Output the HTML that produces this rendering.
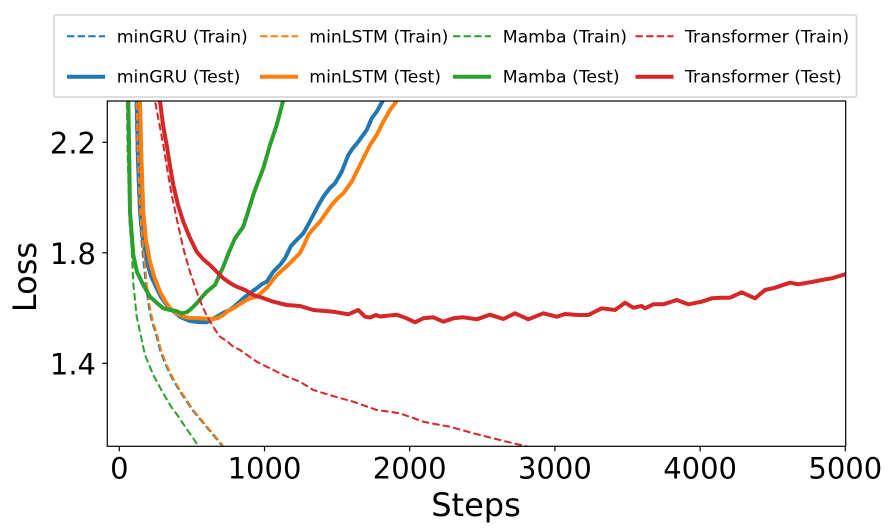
<!DOCTYPE html>
<html>
<head>
<meta charset="utf-8">
<style>
html,body{margin:0;padding:0;background:#fff;}
svg{display:block;}
text{font-family:"DejaVu Sans","Liberation Sans",sans-serif;fill:#000;}
</style>
</head>
<body>
<svg width="889" height="531" viewBox="0 0 889 531" xmlns="http://www.w3.org/2000/svg">
<defs>
<clipPath id="ax"><rect x="107.3" y="101" width="738.4" height="345.3"/></clipPath>
</defs>
<rect x="0" y="0" width="889" height="531" fill="#fff"/>

<g clip-path="url(#ax)" fill="none" stroke-linejoin="round" stroke-linecap="butt">
<!-- minGRU train -->
<polyline stroke="#1f77b4" stroke-width="2" stroke-dasharray="7.4 3.2" points="134,60 135.5,101 137,160 139,211 141,235 142.3,250 145.7,283 149,308 152,322 155.7,333 160,350 165.7,365 172,378 179,390 185.7,400 192.3,410 199,418 209,430 220.7,444 224,449"/>
<!-- minGRU test -->
<polyline stroke="#1f77b4" stroke-width="4" points="136,60 136.7,101 138,160 140,211.7 143,240 146.7,261.7 151,276 156.7,288.3 161,297 166.7,305 173,311 180,316.7 185,319 190,321 198,322 206.7,322.3 211,320 216.7,316.7 223,313 230,310 237,304 243.3,298.3 250,293 256.7,288.3 262,284 266.7,281.7 273.3,271.7 280,265 285,258.3 291,246 295,241.7 300,236.7 303.3,233.3 308,225 313.3,215 318,206 323.3,196.7 330,188 335,183.3 341.7,171.7 348.3,155 353,148 358.3,141.7 366.7,130 371.7,118.3 376.7,111.7 382.7,101 390,88"/>
<!-- minLSTM train -->
<polyline stroke="#ff7f0e" stroke-width="2" stroke-dasharray="7.4 3.2" points="135,60 136.5,101 138,160 140,211 142,235 143.3,250 146.7,283 150,308 153,322 156.7,333 161,350 166.7,365 173,378 180,390 186.7,400 193.3,410 200,418 210,430 221.7,444 225,449"/>
<!-- minLSTM test -->
<polyline stroke="#ff7f0e" stroke-width="4" points="139,60 140,101 141.5,160 143.3,211.7 146,240 150,261.7 154,276 160,291.7 165,301 170,308 176,313 183.3,316.7 190,318 200,318.3 207,318.7 213.3,319 218,318 223.3,315 228,311 233.3,308.3 240,304 246.7,300 251,298 256.7,296.7 262,292 266.7,288 272,281 277,275 283,269.5 290,263.3 295,258 300,253 304,245 308.3,235 314,228 320,221.7 326,213 331.7,205 337,199 343.3,193.3 351.7,181.7 356,173 360,165 365,155 370,145 376.7,135 383.3,121.7 390,110 396.7,101 402,90"/>
<!-- Mamba train -->
<polyline stroke="#2ca02c" stroke-width="2" stroke-dasharray="7.4 3.2" points="126.5,60 127.5,150 129.5,221.7 131.7,250 133.3,283.3 136.7,316.7 140,332 145,355 153.3,375 163,393 170,405 178,416 186.7,429 193,438 198.3,446 202,452"/>
<!-- Mamba test -->
<polyline stroke="#2ca02c" stroke-width="4" points="127.5,60 128.3,101 129.3,160 130,211.7 133.3,255 137,272 143.3,285 150,296.7 157,303 163.3,308.3 170,310 176,311 181.7,313.3 186.7,312.3 191,309 196.7,303.3 206.7,291.7 215,285 223.3,266.7 229,252 235,238.3 243.3,226.7 248,212 253.3,195 258,182 263.3,168.3 270,145 276.7,125 283.3,100 290,75"/>
<!-- Transformer train -->
<polyline stroke="#d62728" stroke-width="2" stroke-dasharray="7.4 3.2" points="152,60 155,101 159,122 163.3,145 167,168 171.7,195 177,220 183.3,248.3 190,272 196.7,291.7 203,308 210,321.7 216,331 220,336.7 226.7,341 233.3,346.7 240,350 256.7,361.7 266.7,366.7 286.7,376.7 300,381.7 313.3,390 333,396 353.3,401.7 376.7,410 400,413.3 423.3,421.7 440,425 450,426.7 473.3,433.3 506.7,441.7 528,446.7 540,450"/>
<!-- Transformer test -->
<polyline stroke="#d62728" stroke-width="4" points="157,60 160,101 163,125 166.7,145 170,166 173.3,185 178,205 183.3,221.7 190,238 196.7,251.7 203,259 210,265 216,271 223.3,278.3 230,283 236.7,286.7 245,290 253.3,295 263,298 273.3,301.7 286.7,305 300,306 313.3,310 333.3,311.7 348.3,314.3 358.3,310 365,316.7 370,317.5 376,315 380,316.5 396.7,314.7 406.7,318.3 415,322.3 423.3,318.3 433.3,317.3 443.3,321.7 453.3,318.3 463.3,317.3 476.7,319.3 490,314.7 503.3,319 515,313.3 528.3,319.3 543.3,313.3 556.7,316.7 565,314 578.3,315 588.3,315 601.7,308.3 615,310 625,302.7 633.3,307.7 641.7,306 645,308.3 653.3,304.3 663.3,304.3 676.7,300 688.3,304.3 701.7,301.7 711.7,298.3 721.7,297.7 730,297.7 741.7,292.3 755,298.3 765,290 775,287.7 790,282.7 798.3,284.3 811.7,282 821.7,280 831.7,278.3 846,274"/>
</g>

<!-- axes spines -->
<rect x="107.3" y="101" width="738.4" height="345.3" fill="none" stroke="#000" stroke-width="1.2"/>

<!-- x ticks -->
<g stroke="#000" stroke-width="1.2">
<line x1="119.3" y1="446.3" x2="119.3" y2="451.3"/>
<line x1="264.5" y1="446.3" x2="264.5" y2="451.3"/>
<line x1="409.7" y1="446.3" x2="409.7" y2="451.3"/>
<line x1="554.9" y1="446.3" x2="554.9" y2="451.3"/>
<line x1="700.1" y1="446.3" x2="700.1" y2="451.3"/>
<line x1="845.3" y1="446.3" x2="845.3" y2="451.3"/>
<line x1="102.3" y1="142.3" x2="107.3" y2="142.3"/>
<line x1="102.3" y1="252.8" x2="107.3" y2="252.8"/>
<line x1="102.3" y1="363.3" x2="107.3" y2="363.3"/>
</g>
<g font-size="29" text-anchor="middle">
<text x="119.3" y="478.5">0</text>
<text x="264.5" y="478.5">1000</text>
<text x="409.7" y="478.5">2000</text>
<text x="554.9" y="478.5">3000</text>
<text x="700.1" y="478.5">4000</text>
<text x="845.3" y="478.5">5000</text>
</g>
<g font-size="29" text-anchor="end">
<text x="96" y="153.3">2.2</text>
<text x="96" y="263.8">1.8</text>
<text x="96" y="374.3">1.4</text>
</g>
<text x="476" y="516" font-size="32" text-anchor="middle">Steps</text>
<text transform="translate(36,277) rotate(-90)" font-size="32" text-anchor="middle">Loss</text>

<!-- legend -->
<rect x="54" y="15" width="802.5" height="82" rx="2" ry="2" fill="#fff" stroke="#d4d4d4" stroke-width="1.6"/>
<g fill="none">
<line x1="67" y1="36.3" x2="105" y2="36.3" stroke="#1f77b4" stroke-width="2" stroke-dasharray="7.4 3.2"/>
<line x1="67" y1="76.7" x2="105" y2="76.7" stroke="#1f77b4" stroke-width="4"/>
<line x1="260" y1="36.3" x2="298" y2="36.3" stroke="#ff7f0e" stroke-width="2" stroke-dasharray="7.4 3.2"/>
<line x1="260" y1="76.7" x2="298" y2="76.7" stroke="#ff7f0e" stroke-width="4"/>
<line x1="453" y1="36.3" x2="491" y2="36.3" stroke="#2ca02c" stroke-width="2" stroke-dasharray="7.4 3.2"/>
<line x1="453" y1="76.7" x2="491" y2="76.7" stroke="#2ca02c" stroke-width="4"/>
<line x1="635.5" y1="36.3" x2="673.5" y2="36.3" stroke="#d62728" stroke-width="2" stroke-dasharray="7.4 3.2"/>
<line x1="635.5" y1="76.7" x2="673.5" y2="76.7" stroke="#d62728" stroke-width="4"/>
</g>
<g font-size="17.3" fill="#222">
<text x="116.7" y="42.5">minGRU (Train)</text>
<text x="116.7" y="82.5">minGRU (Test)</text>
<text x="309.3" y="42.5">minLSTM (Train)</text>
<text x="309.3" y="82.5">minLSTM (Test)</text>
<text x="502.7" y="42.5">Mamba (Train)</text>
<text x="502.7" y="82.5">Mamba (Test)</text>
<text x="685" y="42.5">Transformer (Train)</text>
<text x="685" y="82.5">Transformer (Test)</text>
</g>
</svg>
</body>
</html>
